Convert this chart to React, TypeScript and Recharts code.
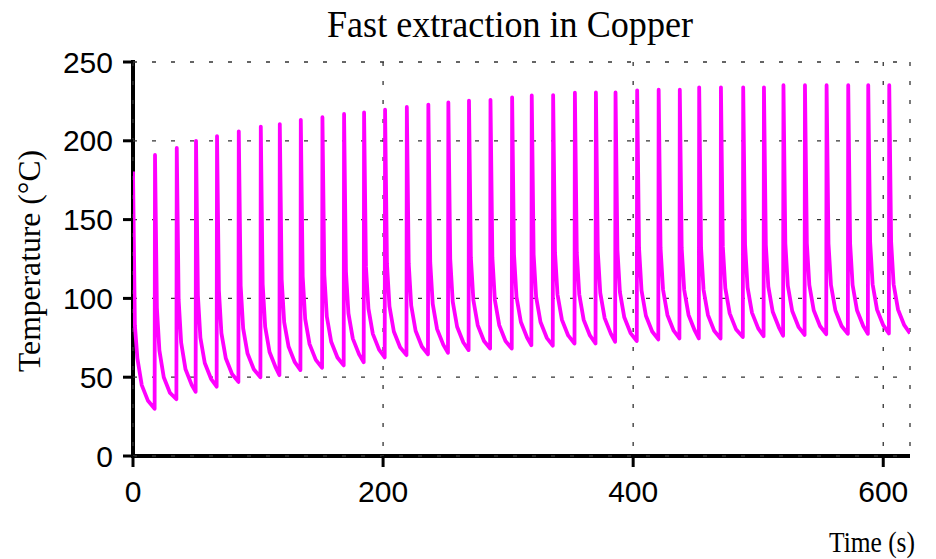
import { LineChart, Line, XAxis, YAxis, CartesianGrid } from 'recharts';

// time of each heating peak (s)
const peakTimes = [
  0, 17.6, 35, 50.4, 67.2, 84.6, 102.2, 117.4, 134.2, 151.5, 168.8, 184.8, 201.6,
  219, 236.2, 252.2, 268.7, 285.9, 303.2, 318.9, 336, 353.4, 370.2, 385.9, 403.2,
  420.4, 437.3, 452.8, 470.2, 488, 504.6, 520.2, 537.4, 554.7, 572, 588, 604.8,
];
// peak temperature (°C)
const peakTemps = [
  180.5, 191, 195.5, 200, 203, 206, 209, 210.6, 213.3, 215, 217, 218, 219.7,
  221.5, 223, 224.3, 225.5, 226, 227.6, 228.8, 229, 230.5, 230.7, 230.7, 232,
  232.4, 232.4, 233.9, 233.9, 233.9, 233.9, 235.3, 235.3, 235.3, 235.3, 235.3, 235.3,
];
// temperatures at 1.5 s, 3.5 s, 7 s and 12 s after each peak
const decayOffsets = [1.5, 3.5, 7, 12];
const dropTemps = [
  83, 94, 99, 102, 105, 108, 109, 112, 114, 115, 117, 120, 122, 122, 123, 125, 126,
  126, 128, 128, 129, 129, 130, 131, 132, 132, 132, 132, 133, 134, 134, 135, 135,
  135, 135, 136, 136,
];
const kneeTemps = [
  62, 67, 72, 75, 78, 81, 82, 85, 87, 88.5, 90.5, 93.5, 95, 95.5, 96.5, 98, 99, 99,
  101, 101, 102.5, 102.5, 103.5, 104, 105, 105.5, 105.5, 105.5, 106.5, 107, 107.5,
  108, 108.5, 108.5, 108.5, 109, 109,
];
const midTemps = [
  45, 50, 55, 59, 62, 65, 66, 69.5, 71, 72.5, 74.5, 77.5, 79, 79.5, 80.5, 82, 83, 83,
  85, 85, 86.5, 86.5, 87.5, 88, 89, 89.5, 89.5, 89.5, 90.5, 91, 91.5, 92, 92.5, 92.5,
  92.5, 93, 93,
];
const lateTemps = [
  35, 40, 45, 49, 52, 55, 56, 59.5, 61, 62.5, 64.5, 67.5, 69, 69.5, 70.5, 72, 73, 73,
  75, 75, 76.5, 76.5, 77.5, 78, 79, 79.5, 79.5, 79.5, 80.5, 81, 81.5, 82, 82.5, 82.5,
  82.5, 83, 83,
];
// lowest temperature reached just before the next peak
const minTemps = [
  30, 36, 40.7, 44, 47, 50, 51.3, 54.5, 56, 57.5, 59.5, 62.5, 64, 64.5, 65.5, 67.2,
  68.2, 68.2, 70.3, 70, 71.4, 71.4, 72.5, 73, 74, 74.6, 74.6, 74.6, 75.5, 76, 76.3,
  76.8, 77.3, 77.5, 77.5, 77.8, 77.8,
];
const endTime = 621.4;

const xTicks = [0, 200, 400, 600];
const yTicks = [0, 50, 100, 150, 200, 250];

const decayTemps = [dropTemps, kneeTemps, midTemps, lateTemps];
const data: { t: number; temp: number }[] = [];
peakTimes.forEach((tp, i) => {
  data.push({ t: tp, temp: peakTemps[i] });
  decayOffsets.forEach((dt, k) => data.push({ t: tp + dt, temp: decayTemps[k][i] }));
  const end = i < peakTimes.length - 1 ? peakTimes[i + 1] - 0.3 : endTime;
  data.push({ t: end, temp: minTemps[i] });
});

const W = 936;
const H = 559;
const M = { top: 62, right: 26, left: 133, bottom: 103 };

const sans = '"Liberation Sans", Arial, sans-serif';
const serif = '"Liberation Serif", "Times New Roman", serif';
const tickFont = { fill: '#000', fontSize: 30, fontFamily: sans };

export default function App() {
  return (
    <div style={{ position: 'absolute', left: 0, top: 0, width: W, height: H, background: '#fff' }}>
      {/* axis lines sit under the trace, as in the original */}
      <svg width={W} height={H} style={{ position: 'absolute', left: 0, top: 0 }}>
        <line x1={M.left} y1={M.top - 2} x2={M.left} y2={H - M.bottom} stroke="#000" strokeWidth={4} />
        <line x1={M.left - 2} y1={H - M.bottom} x2={W - M.right} y2={H - M.bottom} stroke="#000" strokeWidth={4} />
      </svg>
      <LineChart width={W} height={H} data={data} margin={{ top: M.top, right: M.right, left: 0, bottom: 0 }}>
        <CartesianGrid stroke="#333" strokeDasharray="4 15" strokeWidth={1.3} />
        <XAxis
          dataKey="t" type="number" domain={[0, endTime]} ticks={xTicks} allowDataOverflow
          height={M.bottom} tickSize={11} tickMargin={14} tick={tickFont}
          axisLine={false} tickLine={{ stroke: '#000', strokeWidth: 3 }}
        />
        <YAxis
          type="number" domain={[0, 250]} ticks={yTicks} width={M.left}
          tickSize={10} tickMargin={10} tick={tickFont}
          axisLine={false} tickLine={{ stroke: '#000', strokeWidth: 3 }}
        />
        <Line
          type="linear" dataKey="temp" stroke="#ff00ff" strokeWidth={3.8} dot={false}
          strokeLinejoin="round" isAnimationActive={false}
        />
      </LineChart>
      <svg width={W} height={H} style={{ position: 'absolute', left: 0, top: 0, pointerEvents: 'none' }}>
        <text x={510} y={37} textAnchor="middle" fontFamily={serif} fontSize={38}
          textLength={366} lengthAdjust="spacingAndGlyphs">Fast extraction in Copper</text>
        <text transform="translate(40,261) rotate(-90)" textAnchor="middle" fontFamily={serif} fontSize={31}
          textLength={222} lengthAdjust="spacingAndGlyphs">Temperature (°C)</text>
        <text x={915} y={552} textAnchor="end" fontFamily={serif} fontSize={30}
          textLength={86} lengthAdjust="spacingAndGlyphs">Time (s)</text>
      </svg>
    </div>
  );
}
